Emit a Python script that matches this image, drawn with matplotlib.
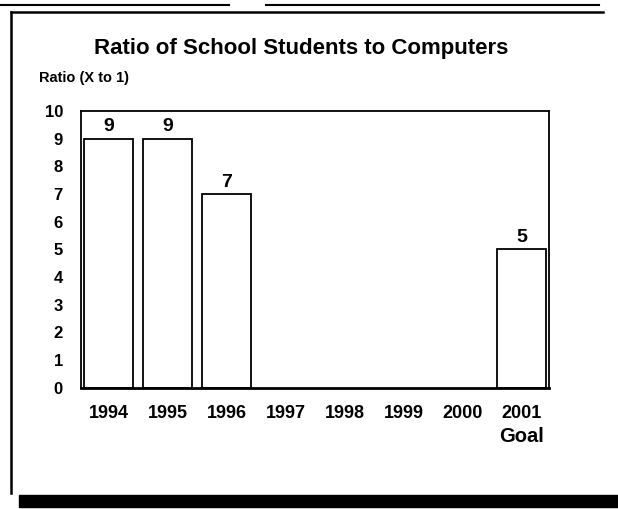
import numpy as np
import matplotlib.pyplot as plt
from matplotlib.lines import Line2D
from matplotlib.patches import Rectangle

plt.rcParams['font.family'] = ['Liberation Sans', 'DejaVu Sans']
plt.rcParams['font.weight'] = 'bold'

# Data
years = ['1994', '1995', '1996', '1997', '1998', '1999', '2000', '2001']
ratios = [9, 9, 7, None, None, None, None, 5]
goal_label = 'Goal'

fig = plt.figure(figsize=(6.18, 5.09), dpi=100)
ax = fig.add_axes([0.131, 0.238, 0.757, 0.544])

x = np.arange(len(years))
for xi, r in zip(x, ratios):
    if r is None:
        continue
    ax.bar(xi, r, width=0.82, facecolor='white', edgecolor='black', linewidth=1.3)
    ax.text(xi, r + 0.12, str(r), ha='center', va='bottom', fontsize=14, fontweight='bold')

ax.set_xlim(-0.47, 7.46)
ax.set_ylim(0, 10)
ax.set_yticks(range(0, 11))
ax.set_xticks(x)
ax.set_xticklabels(years, fontsize=13, fontweight='bold')
ax.tick_params(axis='both', length=0)
ax.tick_params(axis='y', labelsize=12, pad=13)
ax.tick_params(axis='x', pad=12)
ax.text(x[-1], -0.177, goal_label, transform=ax.get_xaxis_transform(),
        ha='center', va='center', fontsize=14.5, fontweight='bold')
for s in ax.spines.values():
    s.set_linewidth(1.3)
ax.spines['bottom'].set_linewidth(2)

fig.text(0.487, 0.905, 'Ratio of School Students to Computers', ha='center', va='center',
         fontsize=16, fontweight='bold')
fig.text(0.063, 0.846, 'Ratio (X to 1)', ha='left', va='center', fontsize=10.5, fontweight='bold')

# scanned page frame
fig.add_artist(Line2D([0.017, 0.017], [0.031, 0.977], color='black', lw=1.8))
fig.add_artist(Line2D([0.017, 0.975], [0.977, 0.977], color='black', lw=1.8))
fig.add_artist(Line2D([0.0, 0.37], [0.99, 0.99], color='black', lw=1.5))
fig.add_artist(Line2D([0.43, 0.97], [0.99, 0.99], color='black', lw=1.5))
fig.add_artist(Rectangle((0.03, 0.004), 0.97, 0.024, color='black', transform=fig.transFigure))

fig.savefig('out.png', dpi=100)
